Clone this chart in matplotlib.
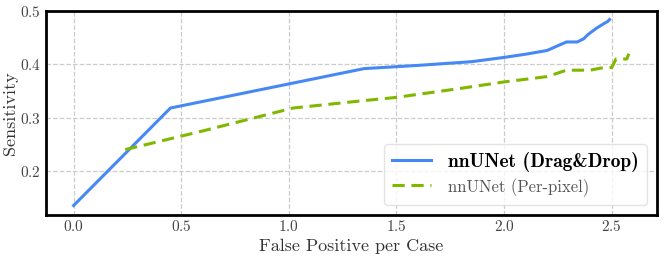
import matplotlib
matplotlib.use("Agg")
import matplotlib.pyplot as plt

# FROC curves
dd_fp = [0.0, 0.45, 0.9, 1.35, 1.6, 1.85, 2.0, 2.1, 2.2, 2.25, 2.29, 2.34,
         2.37, 2.39, 2.41, 2.43, 2.45, 2.47, 2.48, 2.49]
dd_sens = [0.135, 0.318, 0.355, 0.392, 0.398, 0.405, 0.413, 0.419, 0.426, 0.435,
           0.442, 0.442, 0.448, 0.456, 0.462, 0.468, 0.473, 0.478, 0.480, 0.484]

pp_fp = [0.24, 0.6, 1.0, 1.02, 1.35, 1.5, 1.8, 2.0, 2.2, 2.29, 2.4, 2.45,
         2.5, 2.52, 2.55, 2.57, 2.58]
pp_sens = [0.24, 0.275, 0.316, 0.318, 0.332, 0.338, 0.355, 0.367, 0.377, 0.389,
           0.389, 0.393, 0.394, 0.41, 0.41, 0.41, 0.42]

xticks = [0.0, 0.5, 1.0, 1.5, 2.0, 2.5]
yticks = [0.2, 0.3, 0.4, 0.5]

plt.rcParams["font.family"] = ["cmr10"]
plt.rcParams["mathtext.fontset"] = "cm"
plt.rcParams["axes.formatter.use_mathtext"] = True

fig, ax = plt.subplots(figsize=(6.64, 2.57), dpi=100)
fig.subplots_adjust(left=0.069, right=0.989, top=0.957, bottom=0.165)

ax.plot(dd_fp, dd_sens, color="#4688f4", lw=2.2, label="nnUNet (Drag&Drop)")
ax.plot(pp_fp, pp_sens, color="#80b800", lw=2.2, ls="--", dashes=(4, 2.2),
        label="nnUNet (Per-pixel)")

ax.set_xticks(xticks)
ax.set_yticks(yticks)
ax.set_ylim(0.118, 0.5)
ax.grid(True, ls="--", color="#cccccc", lw=0.9)
ax.set_axisbelow(True)
ax.tick_params(length=0, labelsize=11, colors="#444444", pad=3.5)
for s in ax.spines.values():
    s.set_linewidth(2)
    s.set_color("black")

ax.set_xlabel("False Positive per Case", fontsize=13, color="#333333", labelpad=3)
ax.set_ylabel("Sensitivity", fontsize=13, color="#333333", labelpad=1)

leg = ax.legend(loc="lower right", fontsize=14, framealpha=0.8,
                edgecolor="#dddddd", handlelength=2.0, borderpad=0.4,
                labelspacing=0.35, handletextpad=0.9)
texts = leg.get_texts()
texts[0].set_fontfamily("cmb10")
texts[0].set_color("black")
texts[1].set_color("#555555")
texts[1].set_fontsize(12)

fig.savefig("out.png", dpi=100)
